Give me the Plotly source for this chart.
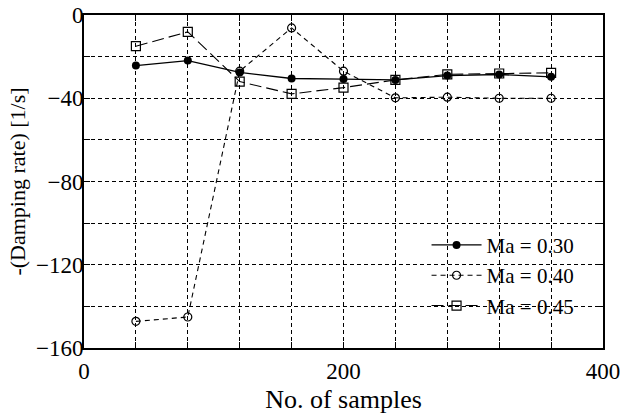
import plotly.graph_objects as go

samples = [40, 80, 120, 160, 200, 240, 280, 320, 360]
ma030 = [-24.3, -21.9, -27.6, -30.5, -30.8, -31.2, -29.1, -28.6, -29.7]
ma040 = [-147.2, -145.1, -27.0, -6.2, -27.0, -39.8, -39.5, -40.0, -40.0]
ma045 = [-15.0, -8.1, -32.0, -37.9, -34.9, -31.2, -28.5, -28.1, -27.8]

FONT = "Liberation Serif"
fig = go.Figure()
fig.add_trace(go.Scatter(x=samples, y=ma030, name="Ma = 0.30", mode="lines+markers",
                         line=dict(color="black", width=1.3, dash="solid"),
                         marker=dict(symbol="circle", size=8, color="black")))
fig.add_trace(go.Scatter(x=samples, y=ma040, name="Ma = 0.40", mode="lines+markers",
                         line=dict(color="black", width=1.1, dash="5px,4px"),
                         marker=dict(symbol="circle-open", size=8, color="black", line=dict(width=1.2))))
fig.add_trace(go.Scatter(x=samples, y=ma045, name="Ma = 0.45", mode="lines+markers",
                         line=dict(color="black", width=1.1, dash="12px,5px"),
                         marker=dict(symbol="square-open", size=9, color="black", line=dict(width=1.2))))

grid_kw = dict(showgrid=True, gridcolor="black", gridwidth=1, griddash="4px,3px")
fig.update_xaxes(range=[0, 400], tickvals=[0, 200, 400], ticks="inside", ticklen=6,
                 tickcolor="black", mirror="ticks", showline=True, linecolor="black", linewidth=2,
                 minor=dict(dtick=40, tick0=0, ticks="inside", ticklen=6, tickcolor="black",
                            showgrid=True, gridcolor="black", gridwidth=1, griddash="4px,3px"),
                 **grid_kw, zeroline=False, automargin=False, ticklabelstandoff=1,
                 title=dict(text="No. of samples", font=dict(family=FONT, size=26, color="black"), standoff=10),
                 tickfont=dict(family=FONT, size=23, color="black"))
fig.update_yaxes(range=[-160, 0], tickvals=[-160, -120, -80, -40, 0], ticks="inside", ticklen=6,
                 tickcolor="black", mirror="ticks", showline=True, linecolor="black", linewidth=2,
                 minor=dict(dtick=20, tick0=0, ticks="inside", ticklen=6, tickcolor="black",
                            showgrid=True, gridcolor="black", gridwidth=1, griddash="4px,3px"),
                 **grid_kw, zeroline=False, automargin=False, ticklabelstandoff=-6,
                 title=dict(text="-(Damping rate) [1/s]", font=dict(family=FONT, size=22, color="black"), standoff=4),
                 tickfont=dict(family=FONT, size=23, color="black"))

fig.update_layout(width=622, height=414, margin=dict(l=84, r=19, t=15, b=66, autoexpand=False),
                  plot_bgcolor="white", paper_bgcolor="white",
                  font=dict(family=FONT, color="black"),
                  legend=dict(x=0.66, y=0.37, xanchor="left", yanchor="top", bgcolor="rgba(0,0,0,0)",
                              font=dict(family=FONT, size=21, color="black"), tracegroupgap=0,
                              itemwidth=50))
fig.write_html("out.html")
